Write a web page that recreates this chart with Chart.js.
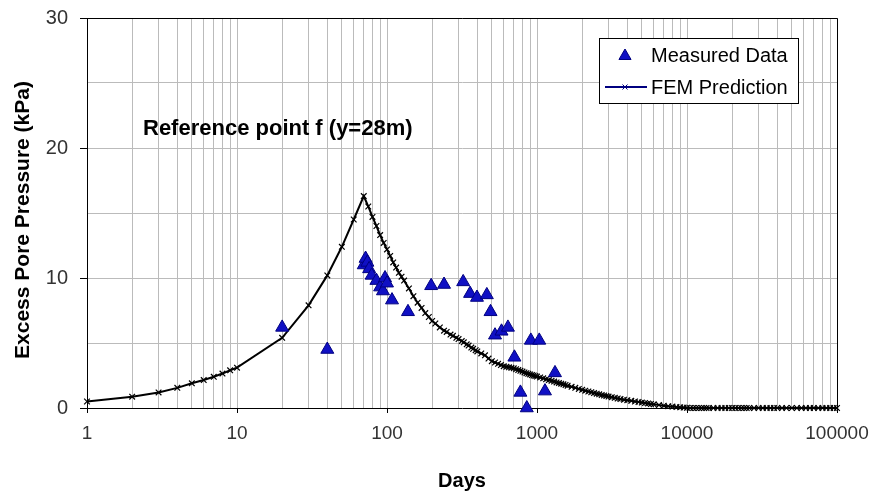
<!DOCTYPE html>
<html>
<head>
<meta charset="utf-8">
<script src="https://cdn.jsdelivr.net/npm/chart.js@4/dist/chart.umd.min.js"></script>
<style>
  html, body { margin: 0; padding: 0; background: #fff; }
  #wrap { width: 870px; height: 493px; }
</style>
</head>
<body>
<div id="wrap"><canvas id="porePressure" width="870" height="493"></canvas></div>
<script>
// FEM prediction (days, kPa)
var femDays = [1, 2, 3, 4, 5, 6, 7, 8, 9, 10, 20, 30, 40, 50, 60, 70,
  75, 80, 85, 90, 95, 100, 105, 110, 115, 120, 125, 130, 140, 150, 160, 170, 180, 190, 200,
  210, 225, 240, 250, 265, 275, 290, 300, 315, 325, 340, 350, 365, 375, 390, 400, 425, 450, 475, 500,
  525, 550, 575, 600, 625, 650, 675, 700, 725, 750, 775, 800, 825, 850, 875, 900, 925, 950, 975, 1000,
  1050, 1100, 1150, 1200, 1250, 1300, 1350, 1400, 1450, 1500, 1550, 1600, 1700, 1800, 1900, 2000,
  2100, 2200, 2300, 2400, 2500, 2600, 2700, 2800, 2900, 3000, 3150, 3300, 3450, 3600, 3800, 4000,
  4250, 4500, 4750, 5000, 5250, 5500, 5750, 6000, 6500, 7000, 7500, 8000, 8500, 9000, 9500, 10000,
  10500, 11000, 11500, 12000, 12500, 13000, 13500, 14000, 15000, 16000, 17000, 18000, 19000, 20000,
  21000, 22000, 23000, 24000, 25000, 26000, 28000, 30000, 32000, 34000, 36000, 38000, 40000,
  43000, 46000, 50000, 54000, 58000, 62000, 66000, 70000, 75000, 80000, 85000, 90000, 95000, 100000];
var femValues = [0.5, 0.87, 1.2, 1.55, 1.9, 2.15, 2.4, 2.65, 2.9, 3.1, 5.4, 7.9, 10.2, 12.4, 14.5, 16.3,
  15.5, 14.7, 14.0, 13.3, 12.7, 12.2, 11.7, 11.2, 10.8, 10.4, 10.1, 9.8, 9.2, 8.6, 8.1, 7.7, 7.3, 7.0, 6.7,
  6.5, 6.2, 5.95, 5.85, 5.65, 5.55, 5.4, 5.3, 5.15, 5.05, 4.9, 4.8, 4.65, 4.55, 4.45, 4.35, 4.2, 4.05, 3.8, 3.6,
  3.5, 3.4, 3.3, 3.22, 3.17, 3.13, 3.09, 3.05, 2.98, 2.92, 2.86, 2.8, 2.74, 2.68, 2.63, 2.58, 2.54, 2.5, 2.46, 2.42,
  2.35, 2.28, 2.21, 2.15, 2.09, 2.03, 1.97, 1.92, 1.87, 1.82, 1.77, 1.72, 1.63, 1.55, 1.47, 1.4,
  1.33, 1.27, 1.21, 1.15, 1.1, 1.05, 1.0, 0.96, 0.92, 0.88, 0.83, 0.78, 0.73, 0.69, 0.64, 0.6,
  0.55, 0.5, 0.46, 0.42, 0.38, 0.35, 0.31, 0.28, 0.23, 0.18, 0.14, 0.11, 0.08, 0.05, 0.03, 0.02,
  0, 0, 0, 0, 0, 0, 0, 0, 0, 0, 0, 0, 0, 0,
  0, 0, 0, 0, 0, 0, 0, 0, 0, 0, 0, 0, 0,
  0, 0, 0, 0, 0, 0, 0, 0, 0, 0, 0, 0, 0, 0];

// measured data (days, kPa)
var measDays = [20, 40, 70, 72, 74, 76, 79, 85, 90, 94, 97, 100, 108, 138, 197, 240, 322, 358, 398,
  463, 490, 525, 580, 640, 707, 775, 855, 910, 1035, 1130, 1318];
var measValues = [6.2, 4.5, 11.0, 11.5, 11.2, 10.7, 10.2, 9.8, 9.3, 9.0, 10.0, 9.6, 8.3, 7.4, 9.4, 9.5, 9.7, 8.8, 8.5,
  8.7, 7.4, 5.6, 5.9, 6.2, 3.9, 1.2, 0.0, 5.2, 5.2, 1.3, 2.7];

var xMajor = [1, 10, 100, 1000, 10000, 100000];
var yLabels = [0, 10, 20, 30];

var FONT = "'Liberation Sans', Arial, sans-serif";
var BLUE = '#1010c4';

// log grid: 1..9 in every decade
var xGrid = [];
xMajor.forEach(function (d) {
  if (d === 100000) { xGrid.push(d); return; }
  for (var k = 1; k < 10; k++) xGrid.push(d * k);
});

function drawTri(ctx, x, y, r) {
  ctx.beginPath();
  ctx.moveTo(x, y - r);
  ctx.lineTo(x + Math.sin(2 * Math.PI / 3) * r, y + r / 2);
  ctx.lineTo(x - Math.sin(2 * Math.PI / 3) * r, y + r / 2);
  ctx.closePath();
  ctx.fillStyle = BLUE;
  ctx.fill();
  ctx.strokeStyle = '#000080';
  ctx.lineWidth = 1;
  ctx.stroke();
}

// no extra label overflow padding, the layout padding decides the plot box
function noPad(axis) {
  axis.paddingLeft = 0; axis.paddingRight = 0;
  axis.paddingTop = 0; axis.paddingBottom = 0;
}

var decor = {
  id: 'decor',
  beforeDatasetsDraw: function (chart) {
    var ctx = chart.ctx, a = chart.chartArea;
    ctx.save();
    ctx.strokeStyle = '#000';
    ctx.lineWidth = 1;
    ctx.beginPath();
    ctx.moveTo(a.left, Math.round(a.top) + 0.5);
    ctx.lineTo(Math.round(a.right) + 0.5, Math.round(a.top) + 0.5);
    ctx.lineTo(Math.round(a.right) + 0.5, a.bottom);
    ctx.stroke();
    ctx.restore();
  },
  afterDraw: function (chart) {
    var ctx = chart.ctx;
    ctx.save();
    ctx.fillStyle = '#000';
    // axis titles
    ctx.font = 'bold 20px ' + FONT;
    ctx.textAlign = 'center';
    ctx.textBaseline = 'middle';
    ctx.fillText('Days', 462, 481);
    ctx.save();
    ctx.translate(23, 220);
    ctx.rotate(-Math.PI / 2);
    ctx.font = 'bold 21px ' + FONT;
    ctx.fillText('Excess Pore Pressure (kPa)', 0, 0);
    ctx.restore();
    // annotation
    ctx.font = 'bold 22px ' + FONT;
    ctx.textAlign = 'left';
    ctx.fillText('Reference point f (y=28m)', 143, 129);
    // legend
    ctx.fillStyle = '#fff';
    ctx.fillRect(599.5, 38.5, 199, 65);
    ctx.strokeStyle = '#000';
    ctx.lineWidth = 1;
    ctx.strokeRect(599.5, 38.5, 199, 65);
    drawTri(ctx, 625, 56, 7);
    ctx.beginPath();
    ctx.lineWidth = 2;
    ctx.moveTo(605, 87);
    ctx.lineTo(647, 87);
    ctx.stroke();
    ctx.lineWidth = 1;
    ctx.beginPath();
    ctx.moveTo(622.5, 84.5); ctx.lineTo(627.5, 89.5);
    ctx.moveTo(627.5, 84.5); ctx.lineTo(622.5, 89.5);
    ctx.stroke();
    ctx.fillStyle = '#000';
    ctx.font = '20px ' + FONT;
    ctx.fillText('Measured Data', 651, 56);
    ctx.fillText('FEM Prediction', 651, 88);
    ctx.restore();
  }
};

new Chart('porePressure', {
  type: 'scatter',
  data: {
    datasets: [{
      label: 'Measured Data',
      data: measDays.map(function (d, i) { return {x: d, y: measValues[i]}; }),
      pointStyle: 'triangle',
      pointRadius: 7.5,
      pointBackgroundColor: BLUE,
      pointBorderColor: '#000080',
      pointBorderWidth: 1,
      showLine: false,
      clip: false,
      order: 0
    }, {
      label: 'FEM Prediction',
      data: femDays.map(function (d, i) { return {x: d, y: femValues[i]}; }),
      showLine: true,
      borderColor: '#000',
      borderWidth: 2,
      pointStyle: 'crossRot',
      pointRadius: 4,
      pointBorderColor: '#000',
      pointBorderWidth: 1.2,
      clip: false,
      order: 1
    }]
  },
  options: {
    responsive: false,
    animation: false,
    layout: { padding: { left: 0, right: 33, top: 18, bottom: 0 } },
    plugins: {
      legend: { display: false },
      tooltip: { enabled: false }
    },
    scales: {
      x: {
        type: 'logarithmic',
        min: 1,
        max: 100000,
        afterBuildTicks: function (axis) {
          axis.ticks = xGrid.map(function (v) { return {value: v}; });
        },
        afterFit: function (axis) { axis.height = 85; noPad(axis); },
        border: { color: '#000', width: 1 },
        grid: {
          color: function (c) { return c.tick && c.tick.value === 1 ? 'rgba(0,0,0,0)' : '#bbbbbb'; },
          tickColor: function (c) { return c.tick && xMajor.indexOf(c.tick.value) >= 0 ? '#000' : 'rgba(0,0,0,0)'; },
          tickLength: 5
        },
        ticks: {
          autoSkip: false,
          maxRotation: 0,
          padding: 9,
          color: '#333',
          font: { family: FONT, size: 19 },
          callback: function (v) { return xMajor.indexOf(v) >= 0 ? String(v) : ''; }
        }
      },
      y: {
        min: 0,
        max: 30,
        afterFit: function (axis) { axis.width = 87; noPad(axis); },
        border: { color: '#000', width: 1 },
        grid: {
          color: function (c) { return c.tick && (c.tick.value === 0 || c.tick.value === 30) ? 'rgba(0,0,0,0)' : '#bbbbbb'; },
          tickColor: function (c) { return c.tick && yLabels.indexOf(c.tick.value) >= 0 ? '#000' : 'rgba(0,0,0,0)'; },
          tickLength: 7
        },
        ticks: {
          stepSize: 5,
          padding: 12,
          color: '#333',
          font: { family: FONT, size: 20 },
          callback: function (v) { return yLabels.indexOf(v) >= 0 ? String(v) : ''; }
        }
      }
    }
  },
  plugins: [decor]
});
</script>
</body>
</html>
